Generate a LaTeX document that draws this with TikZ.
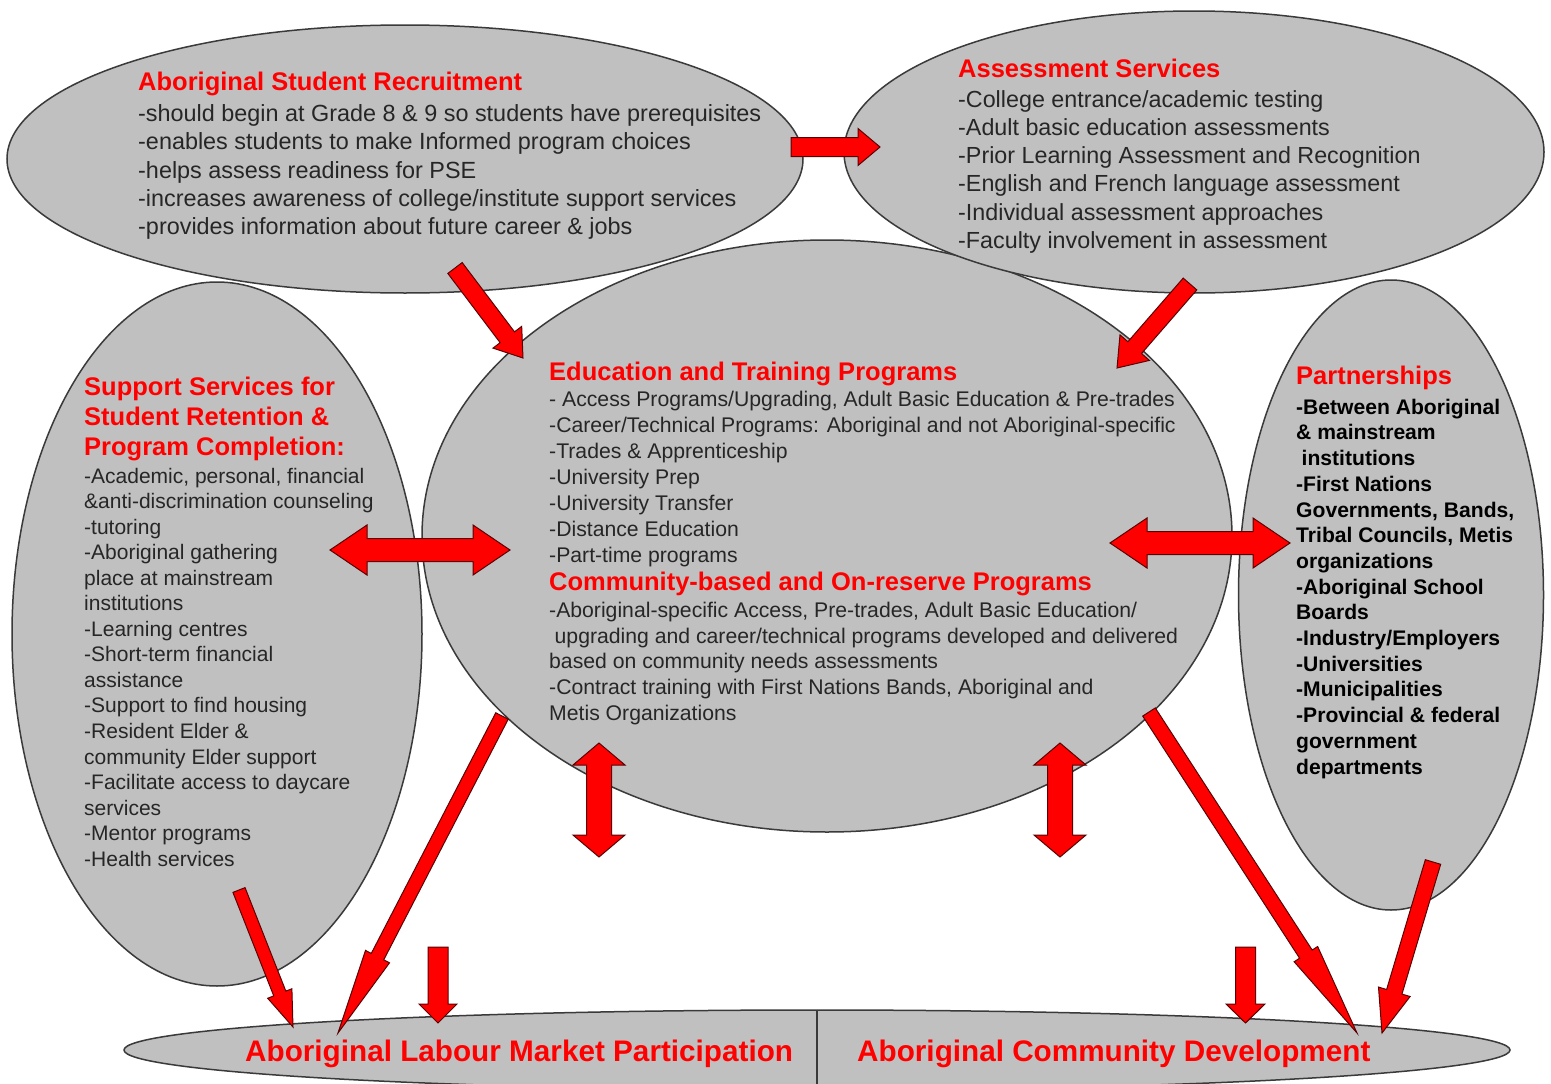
\documentclass[tikz,border=0pt]{standalone}
\usepackage{fontspec}
\setmainfont{Liberation Sans}
\usetikzlibrary{calc,shapes.geometric}
\definecolor{ellfill}{HTML}{C0C0C0}
\definecolor{ellline}{HTML}{3A3A3A}
\definecolor{arrred}{HTML}{FF0000}
\definecolor{arrline}{HTML}{5A0000}
\definecolor{txtgray}{HTML}{262626}
\definecolor{ttlred}{HTML}{FF0000}
\newcommand\firstrule{\rule{0pt}{20pt}}
\newcommand\blkarrow[5]{%
  \path ($(#2)!#5!(#1)$) coordinate (hb);
  \draw[arrowshape] ($(#1)!#3!90:(#2)$) -- ($(hb)!#3!90:(#2)$) -- ($(hb)!#4!90:(#2)$) -- (#2)
    -- ($(hb)!#4!-90:(#2)$) -- ($(hb)!#3!-90:(#2)$) -- ($(#1)!#3!-90:(#2)$) -- cycle;}
\newcommand\dblarrow[5]{%
  \path ($(#1)!#5!(#2)$) coordinate (ha) ($(#2)!#5!(#1)$) coordinate (hb);
  \draw[arrowshape] (#1) -- ($(ha)!#4!90:(#2)$) -- ($(ha)!#3!90:(#2)$) -- ($(hb)!#3!90:(#2)$)
    -- ($(hb)!#4!90:(#2)$) -- (#2) -- ($(hb)!#4!-90:(#2)$) -- ($(hb)!#3!-90:(#2)$)
    -- ($(ha)!#3!-90:(#2)$) -- ($(ha)!#4!-90:(#2)$) -- cycle;}
\tikzset{
  ell/.style={ellipse, draw=ellline, fill=ellfill, line width=1.5pt, inner sep=0pt, outer sep=0pt},
  arrowshape/.style={fill=arrred, draw=arrline, line width=1pt, line join=miter},
  ttl/.style={text=ttlred, inner sep=0pt, anchor=north west, align=left,
    font=\bfseries\fontsize{25.5}{30}\selectfont},
  bigttl/.style={text=ttlred, inner sep=0pt, anchor=base west,
    font=\bfseries\fontsize{29.7}{34}\selectfont},
  bodyA/.style={text=txtgray, inner sep=0pt, anchor=north west, align=left,
    font=\fontsize{23.4}{28.4}\selectfont},
  bodyB/.style={text=txtgray, inner sep=0pt, anchor=north west, align=left,
    font=\fontsize{23.3}{28.2}\selectfont},
  bodyC/.style={text=txtgray, inner sep=0pt, anchor=north west, align=left,
    font=\fontsize{21.2}{25.85}\selectfont},
  bodyL/.style={text=txtgray, inner sep=0pt, anchor=north west, align=left,
    font=\fontsize{21}{25.53}\selectfont},
  bodyR/.style={text=black, inner sep=0pt, anchor=north west, align=left,
    font=\bfseries\fontsize{21.1}{25.7}\selectfont},
}
\begin{document}
\begin{tikzpicture}[x=1pt,y=-1pt]
\useasboundingbox (0,0) rectangle (1551,1084);
\clip (0,0) rectangle (1551,1084);
\fill[white] (0,0) rectangle (1551,1084);

% ellipses
\node[ell, minimum width=1386pt, minimum height=80pt] (bt) at (817,1050) {};
\draw[ellline, line width=1.2pt] (bt.north) -- (bt.south);
\node[ell, minimum width=410pt, minimum height=704pt] (lf) at (217,634) {};
\node[ell, minimum width=305pt, minimum height=630pt] (rt) at (1391,595) {};
\node[ell, minimum width=810pt, minimum height=592pt] (ct) at (827,536) {};
\node[ell, minimum width=796pt, minimum height=268pt] (tl) at (405,159) {};
\node[ell, minimum width=700pt, minimum height=282pt] (tr) at (1194,152) {};

% texts: top left
\node[ttl] (tlT) at (138,70) {\firstrule Aboriginal Student Recruitment};
\node[bodyA] (tlB) at (138,101) {\firstrule-should begin at Grade 8 \& 9 so students have prerequisites\\
-enables students to make Informed program choices\\
-helps assess readiness for PSE\\
-increases awareness of college/institute support services\\
-provides information about future career \& jobs};

% top right
\node[ttl] (trT) at (958,57) {\firstrule Assessment Services};
\node[bodyB] (trB) at (958,87) {\firstrule-College entrance/academic testing\\
-Adult basic education assessments\\
-Prior Learning Assessment and Recognition\\
-English and French language assessment\\
-Individual assessment approaches\\
-Faculty involvement in assessment};

% centre
\node[ttl] (ctT1) at (549,360) {\firstrule Education and Training Programs};
\node[bodyC] (ctB1) at (549,386.7) {\firstrule- Access Programs/Upgrading, Adult Basic Education \& Pre-trades\\
-Career/Technical Programs: Aboriginal and not Aboriginal-specific\\
-Trades \& Apprenticeship\\
-University Prep\\
-University Transfer\\
-Distance Education\\
-Part-time programs};
\node[ttl] (ctT2) at (549,570) {\firstrule Community-based and On-reserve Programs};
\node[bodyC] (ctB2) at (549,597) {\firstrule-Aboriginal-specific Access, Pre-trades, Adult Basic Education/\\
\hspace*{5.5pt}upgrading and career/technical programs developed and delivered\\
based on community needs assessments\\
-Contract training with First Nations Bands, Aboriginal and\\
Metis Organizations};

% left
\node[ttl] (lfT) at (84,375) {\firstrule Support Services for\\Student Retention \&\\Program Completion:};
\node[bodyL] (lfB) at (84,463) {\firstrule-Academic, personal, financial\\
\&anti-discrimination counseling\\
-tutoring\\
-Aboriginal gathering\\
place at mainstream\\
institutions\\
-Learning centres\\
-Short-term financial\\
assistance\\
-Support to find housing\\
-Resident Elder \&\\
community Elder support\\
-Facilitate access to daycare\\
services\\
-Mentor programs\\
-Health services};

% right
\node[ttl] (rtT) at (1296,364) {\firstrule Partnerships};
\node[bodyR] (rtB) at (1296,394) {\firstrule-Between Aboriginal\\
\& mainstream\\
\hspace*{5.5pt}institutions\\
-First Nations\\
Governments, Bands,\\
Tribal Councils, Metis\\
organizations\\
-Aboriginal School\\
Boards\\
-Industry/Employers\\
-Universities\\
-Municipalities\\
-Provincial \& federal\\
government\\
departments};

% bottom
\node[bigttl] (btL) at (245,1061) {Aboriginal Labour Market Participation};
\node[bigttl] (btR) at (857,1061) {Aboriginal Community Development};

% arrows
\coordinate (a1s) at (791,147);   \coordinate (a1e) at (880,147);
\coordinate (a2s) at (455,268);   \coordinate (a2e) at (523,358);
\coordinate (a3s) at (1190,284);  \coordinate (a3e) at (1117,368);
\coordinate (a4s) at (330,550);   \coordinate (a4e) at (510,550);
\coordinate (a5s) at (1110,543);  \coordinate (a5e) at (1290,543);
\coordinate (a6s) at (599,743);   \coordinate (a6e) at (599,857);
\coordinate (a7s) at (1060,743);  \coordinate (a7e) at (1060,857);
\coordinate (a8s) at (502,716);   \coordinate (a8e) at (338,1033);
\coordinate (a9s) at (239,890);   \coordinate (a9e) at (293,1027);
\coordinate (a10s) at (438,947);  \coordinate (a10e) at (438,1023);
\coordinate (a11s) at (1245.5,947); \coordinate (a11e) at (1245.5,1023);
\coordinate (a12s) at (1149,712); \coordinate (a12e) at (1357,1033);
\coordinate (a13s) at (1433,862); \coordinate (a13e) at (1382,1033);

\blkarrow{a1s}{a1e}{9.5pt}{18.5pt}{22pt}
\blkarrow{a2s}{a2e}{9pt}{18pt}{26pt}
\blkarrow{a3s}{a3e}{9pt}{19.5pt}{27pt}
\dblarrow{a4s}{a4e}{11.5pt}{25pt}{37pt}
\dblarrow{a5s}{a5e}{11.5pt}{25pt}{37pt}
\dblarrow{a6s}{a6e}{12.5pt}{26pt}{22pt}
\dblarrow{a7s}{a7e}{12.5pt}{26pt}{22pt}
\blkarrow{a8s}{a8e}{7pt}{13.5pt}{86pt}
\blkarrow{a9s}{a9e}{6.5pt}{13pt}{36pt}
\blkarrow{a10s}{a10e}{10pt}{19pt}{19pt}
\blkarrow{a11s}{a11e}{10pt}{19.5pt}{19pt}
\blkarrow{a12s}{a12e}{7.5pt}{14pt}{94pt}
\blkarrow{a13s}{a13e}{8pt}{16.5pt}{43pt}
\end{tikzpicture}
\end{document}
